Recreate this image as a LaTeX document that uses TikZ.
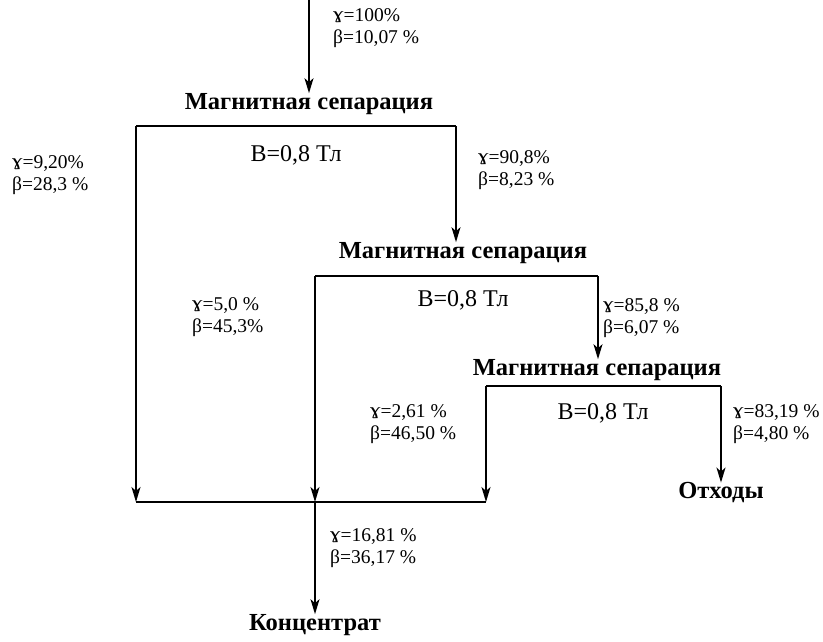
\documentclass[tikz,border=0pt]{standalone}
\usepackage{fontspec}
\usepackage{graphicx}
\setmainfont{Liberation Serif}
\usetikzlibrary{arrows.meta}
\newcommand\gamsym{\raisebox{-1pt}{\scalebox{1.2}{ɤ}}}
\tikzset{
  flow/.style={line width=1.6pt},
  arr/.style={flow,-{Stealth[length=15pt,width=9pt,inset=4pt]}},
  lbl/.style={anchor=west,inner sep=0pt,align=left,font=\fontsize{19.5}{22}\selectfont},
  title/.style={inner sep=0pt,font=\fontsize{24.5}{26}\selectfont\bfseries},
  field/.style={inner sep=0pt,font=\fontsize{24}{26}\selectfont}
}
\begin{document}
\begin{tikzpicture}[x=1pt,y=-1pt]
\useasboundingbox (0,0) rectangle (823,641);
% nodes
\coordinate (in) at (309,0);
\node[title] (s1) at (309,104) {Магнитная сепарация};
\node[title] (s2) at (463,253) {Магнитная сепарация};
\node[title] (s3) at (597,370) {Магнитная сепарация};
\node[title] (waste) at (721,493) {Отходы};
\node[title] (conc) at (315,625) {Концентрат};
\node[field] (b1) at (296,155) {B=0,8 Тл};
\node[field] (b2) at (463,300) {B=0,8 Тл};
\node[field] (b3) at (603,413) {B=0,8 Тл};
% box corners
\coordinate (t1l) at (136,126); \coordinate (t1r) at (456,126);
\coordinate (t2l) at (315,276); \coordinate (t2r) at (598,276);
\coordinate (t3l) at (486,386); \coordinate (t3r) at (721,386);
\coordinate (c1) at (136,502); \coordinate (c2) at (315,502); \coordinate (c3) at (486,502);
% connectors
\draw[arr] (in) -- (s1.north -| in);
\draw[flow] (t1l) -- (t1r);
\draw[arr] (t1r) -- (s2.north -| t1r);
\draw[arr] (t1l) -- (c1);
\draw[flow] (t2l) -- (t2r);
\draw[arr] (t2r) -- (s3.north -| t2r);
\draw[arr] (t2l) -- (c2);
\draw[flow] (t3l) -- (t3r);
\draw[arr] (t3l) -- (c3);
\draw[arr] (t3r) -- (waste.north);
\draw[flow] (c1) -- (c3);
\draw[arr] (c2) -- (conc.north);
% labels
\node[lbl] (l0) at (333,28) {\gamsym=100\%\\β=10,07 \%};
\node[lbl] (l1) at (12,175) {\gamsym=9,20\%\\β=28,3 \%};
\node[lbl] (l2) at (478,170) {\gamsym=90,8\%\\β=8,23 \%};
\node[lbl] (l3) at (192,317) {\gamsym=5,0 \%\\β=45,3\%};
\node[lbl] (l4) at (603,318) {\gamsym=85,8 \%\\β=6,07 \%};
\node[lbl] (l5) at (370,424) {\gamsym=2,61 \%\\β=46,50 \%};
\node[lbl] (l6) at (733,424) {\gamsym=83,19 \%\\β=4,80 \%};
\node[lbl] (l7) at (330,548) {\gamsym=16,81 \%\\β=36,17 \%};
\end{tikzpicture}
\end{document}
